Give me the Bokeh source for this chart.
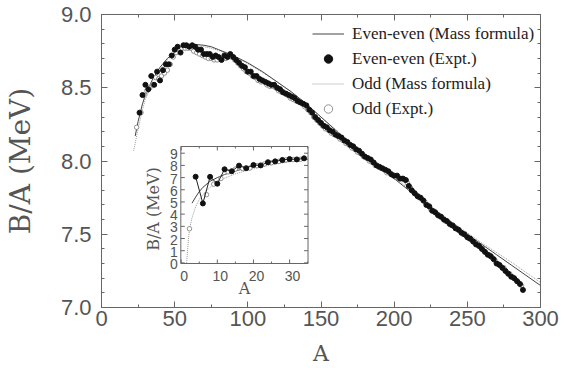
from bokeh.plotting import figure
from bokeh.models import (LinearAxis, SingleIntervalTicker, NumeralTickFormatter, Legend,
                          LegendItem, CustomLabelingPolicy, Range1d)
from bokeh.core.properties import value
from bokeh.embed import file_html
from bokeh.resources import INLINE
import math

# ---------------- data ----------------
# mass formula, even-even (solid)
mf_ee_A = [23, 25, 28, 30, 35, 40, 45, 50, 55, 60, 65, 70, 75, 80, 85, 90, 100, 110, 120, 130,
           140, 150, 160, 170, 180, 190, 200, 210, 220, 230, 240, 250, 260, 270, 280, 290, 300]
mf_ee_BA = [8.17, 8.27, 8.39, 8.45, 8.56, 8.64, 8.70, 8.74, 8.77, 8.79, 8.795, 8.79, 8.78, 8.76, 8.74,
            8.72, 8.67, 8.61, 8.54, 8.47, 8.39, 8.30, 8.21, 8.12, 8.04, 7.96, 7.88, 7.80, 7.72,
            7.64, 7.57, 7.50, 7.43, 7.36, 7.29, 7.22, 7.15]
# mass formula, odd (dotted)
mf_odd_A = [22, 25, 28, 30, 35, 40, 45, 50, 55, 60, 65, 70, 75, 80, 85, 90, 100, 110, 120, 130,
            140, 150, 160, 170, 180, 190, 200, 210, 220, 230, 240, 250, 260, 270, 280, 290, 300]
mf_odd_BA = [8.07, 8.22, 8.35, 8.42, 8.54, 8.62, 8.69, 8.73, 8.76, 8.78, 8.785, 8.78, 8.77, 8.755,
             8.735, 8.715, 8.665, 8.605, 8.54, 8.47, 8.39, 8.30, 8.215, 8.13, 8.05, 7.97, 7.89,
             7.81, 7.73, 7.655, 7.58, 7.51, 7.44, 7.375, 7.31, 7.24, 7.17]

# experiment, even-even (filled)
ee_A = list(range(26, 290, 2))
ee_BA = [8.33, 8.45, 8.52, 8.49, 8.58, 8.52, 8.61, 8.55, 8.62, 8.66, 8.66, 8.72, 8.76,
         8.78, 8.74, 8.79, 8.79, 8.78, 8.79, 8.78, 8.76, 8.76, 8.73, 8.73, 8.73, 8.71, 8.72,
         8.71, 8.69, 8.72, 8.71, 8.73, 8.71, 8.69, 8.67, 8.65, 8.64, 8.61, 8.61, 8.58, 8.58,
         8.56, 8.55, 8.54, 8.53, 8.52, 8.52, 8.50, 8.49, 8.47, 8.46, 8.45, 8.44, 8.43, 8.41,
         8.40, 8.39, 8.38, 8.35, 8.33, 8.30, 8.28, 8.26, 8.24, 8.23, 8.21, 8.20, 8.18, 8.17,
         8.16, 8.14, 8.13, 8.11, 8.10, 8.08, 8.07, 8.05, 8.03, 8.02, 8.01, 7.99, 7.97, 7.96,
         7.95, 7.94, 7.93, 7.91, 7.90, 7.90, 7.88, 7.88, 7.87, 7.83, 7.80, 7.78, 7.76, 7.75,
         7.73, 7.70, 7.69, 7.66, 7.65, 7.63, 7.62, 7.60, 7.59, 7.57, 7.56, 7.54, 7.53, 7.51,
         7.50, 7.48, 7.47, 7.45, 7.43, 7.42, 7.40, 7.38, 7.36, 7.35, 7.33, 7.30, 7.29, 7.27,
         7.25, 7.23, 7.21, 7.20, 7.18, 7.16, 7.12]

# experiment, odd (open)
odd_A = [24] + list(range(27, 289, 2))
odd_BA = [8.23, 8.33, 8.45, 8.48, 8.50, 8.52, 8.57, 8.56, 8.58, 8.60, 8.62, 8.66, 8.71, 8.74,
          8.76, 8.77, 8.77, 8.77, 8.77, 8.75, 8.74, 8.73, 8.72, 8.71, 8.70, 8.70, 8.69, 8.69,
          8.70, 8.70, 8.70, 8.71, 8.71, 8.69, 8.67, 8.65, 8.63, 8.61, 8.60, 8.58, 8.57, 8.55,
          8.54, 8.54, 8.52, 8.51, 8.51, 8.50, 8.48, 8.47, 8.46, 8.45, 8.43, 8.42, 8.41, 8.40,
          8.39, 8.37, 8.35, 8.33, 8.30, 8.28, 8.26, 8.24, 8.22, 8.21, 8.19, 8.18, 8.17, 8.15,
          8.14, 8.12, 8.11, 8.09, 8.08, 8.06, 8.05, 8.03, 8.02, 8.00, 7.99, 7.97, 7.96, 7.95,
          7.94, 7.92, 7.92, 7.90, 7.89, 7.88, 7.88, 7.87, 7.85, 7.82, 7.79, 7.77, 7.75, 7.74,
          7.72, 7.70, 7.67, 7.66, 7.64, 7.62, 7.61, 7.59, 7.58, 7.56, 7.55, 7.54, 7.52, 7.50,
          7.49, 7.47, 7.46, 7.44, 7.43, 7.41, 7.39, 7.37, 7.36, 7.34, 7.32, 7.30, 7.28, 7.27,
          7.24, 7.23, 7.21, 7.19, 7.17, 7.15]

# inset (light nuclei)
in_mf_ee_A = [3, 4, 5, 6, 8, 10, 12, 15, 20, 25, 30, 35]
in_mf_ee_BA = [4.9, 5.4, 5.85, 6.2, 6.7, 7.0, 7.25, 7.55, 7.9, 8.15, 8.35, 8.5]
in_mf_odd_A = [1.5, 2, 2.3, 3, 4, 5, 6, 7, 8, 10, 12, 15, 20, 25, 30, 35]
in_mf_odd_BA = [0.0, 1.9, 2.8, 3.7, 4.6, 5.2, 5.6, 5.9, 6.2, 6.6, 6.95, 7.3, 7.75, 8.05, 8.3, 8.45]
in_ee_A = [4, 6, 8, 10, 12, 14, 16, 18, 20, 22, 24, 26, 28, 30, 32, 34]
in_ee_BA = [7.07, 4.88, 7.06, 6.50, 7.68, 7.52, 7.98, 7.77, 8.03, 8.00, 8.26, 8.33, 8.45, 8.52, 8.49, 8.58]
in_odd_A = [2.3, 7, 9, 11, 13, 15, 17, 19, 21, 23, 25, 27, 29, 31, 33]
in_odd_BA = [2.8, 5.6, 6.46, 6.93, 7.47, 7.70, 7.75, 7.78, 7.97, 8.11, 8.22, 8.33, 8.45, 8.48, 8.50]
in_x_ticks = [0, 10, 20, 30]
in_x_minor = [5, 15, 25, 35]
in_y_ticks = [0, 1, 2, 3, 4, 5, 6, 7, 8, 9]

x_label = "A"
y_label = "B/A (MeV)"
leg_labels = ["Even-even (Mass formula)", "Even-even (Expt.)", "Odd (Mass formula)", "Odd (Expt.)"]

AXC = "#666666"
TXT = "#555555"
SERIF = "DejaVu Serif"
HIDE = "for (const i of indices) { indices.unset(i) }\nreturn indices"

# ---------------- layout geometry (pixels) ----------------
W, H = 569, 368
FR_L, FR_R, FR_T, FR_B = 100, 540, 14, 307          # main frame
IN_L, IN_R, IN_T, IN_B = 179.5, 307, 146, 263       # inset box
ix0, ix1, iy0, iy1 = -0.1, 35.1, -0.05, 9.55         # inset axis limits
sx = (ix1 - ix0) / (IN_R - IN_L)
sy = (iy1 - iy0) / (IN_B - IN_T)


def mirror_axis(tk, tin, tmin):
    return LinearAxis(ticker=tk, major_label_text_font_size="1px", major_label_standoff=0,
                      major_label_policy=CustomLabelingPolicy(code=HIDE),
                      axis_line_color=AXC, major_tick_line_color=AXC, minor_tick_line_color=AXC,
                      major_tick_in=tin, major_tick_out=0, minor_tick_in=tmin, minor_tick_out=0)


# ---------------- main plot ----------------
p = figure(width=W, height=H, x_range=(0, 300), y_range=(7.0, 9.0),
           output_backend="svg", toolbar_location=None,
           min_border_left=FR_L, min_border_right=W - FR_R, min_border_top=FR_T,
           min_border_bottom=H - FR_B)
p.xgrid.visible = False
p.ygrid.visible = False
p.outline_line_color = AXC
p.background_fill_color = "white"
p.border_fill_color = "white"

xt = SingleIntervalTicker(interval=50, num_minor_ticks=2)
yt = SingleIntervalTicker(interval=0.5, num_minor_ticks=5)
p.xaxis.ticker = xt
p.yaxis.ticker = yt
p.yaxis.formatter = NumeralTickFormatter(format="0.0")

for ax in (p.xaxis[0], p.yaxis[0]):
    ax.axis_line_color = AXC
    ax.major_tick_line_color = AXC
    ax.minor_tick_line_color = AXC
    ax.major_tick_in = 6
    ax.major_tick_out = 0
    ax.minor_tick_in = 3
    ax.minor_tick_out = 0
    ax.major_label_text_font = "Liberation Sans"
    ax.major_label_text_font_size = "22px"
    ax.major_label_text_color = TXT
    ax.axis_label_text_font = SERIF
    ax.axis_label_text_font_style = "normal"
    ax.axis_label_text_color = TXT

p.xaxis.axis_label = x_label
p.yaxis.axis_label = y_label
p.xaxis.axis_label_text_font_size = "22px"
p.yaxis.axis_label_text_font_size = "28px"
p.xaxis.major_label_standoff = 3
p.xaxis.axis_label_standoff = 12
p.yaxis.major_label_standoff = 10
p.yaxis.axis_label_standoff = 21

p.add_layout(mirror_axis(xt, 6, 3), "above")
p.add_layout(mirror_axis(yt, 6, 3), "right")

r_mf_odd = p.line(mf_odd_A, mf_odd_BA, line_color="#9a9a9a", line_width=1, line_dash="1 1")
r_mf_ee = p.line(mf_ee_A, mf_ee_BA, line_color="#444444", line_width=1)
r_odd = p.scatter(odd_A, odd_BA, size=4.5, fill_color="white", line_color="#777777", line_width=0.8)
r_ee = p.scatter(ee_A, ee_BA, size=5, fill_color="#111111", line_color="#111111")

legend = Legend(items=[
    LegendItem(label=leg_labels[0], renderers=[r_mf_ee]),
    LegendItem(label=leg_labels[1], renderers=[r_ee]),
    LegendItem(label=leg_labels[2], renderers=[r_mf_odd]),
    LegendItem(label=leg_labels[3], renderers=[r_odd]),
], location=(211, 188))
legend.border_line_color = None
legend.background_fill_alpha = 0
legend.label_text_font = "Liberation Serif"
legend.label_text_font_size = "17px"
legend.label_text_color = "#222222"
legend.glyph_width = 32
legend.glyph_height = 21
legend.label_height = 21
legend.spacing = 4
legend.padding = 4
legend.margin = 0
legend.label_standoff = 8
p.add_layout(legend)

# ---------------- inset, drawn in the same frame through its own ranges ----------------
p.extra_x_ranges = {"ix": Range1d(ix0 - (IN_L - FR_L) * sx, ix1 + (FR_R - IN_R) * sx)}
p.extra_y_ranges = {"iy": Range1d(iy0 - (FR_B - IN_B) * sy, iy1 + (IN_T - FR_T) * sy)}
IR = dict(x_range_name="ix", y_range_name="iy")

p.quad(left=[ix0], right=[ix1], bottom=[iy0], top=[iy1], fill_color="white",
       line_color=AXC, line_width=1, **IR)

tk_maj, tk_min = 4, 2  # tick lengths in px
p.segment(x0=in_x_ticks, x1=in_x_ticks, y0=[iy0] * 4, y1=[iy0 + tk_maj * sy] * 4, line_color=AXC, **IR)
p.segment(x0=in_x_ticks, x1=in_x_ticks, y0=[iy1] * 4, y1=[iy1 - tk_maj * sy] * 4, line_color=AXC, **IR)
p.segment(x0=in_x_minor, x1=in_x_minor, y0=[iy0] * 4, y1=[iy0 + tk_min * sy] * 4, line_color=AXC, **IR)
p.segment(x0=in_x_minor, x1=in_x_minor, y0=[iy1] * 4, y1=[iy1 - tk_min * sy] * 4, line_color=AXC, **IR)
ny = len(in_y_ticks)
p.segment(x0=[ix0] * ny, x1=[ix0 + tk_maj * sx] * ny, y0=in_y_ticks, y1=in_y_ticks, line_color=AXC, **IR)
p.segment(x0=[ix1] * ny, x1=[ix1 - tk_maj * sx] * ny, y0=in_y_ticks, y1=in_y_ticks, line_color=AXC, **IR)

p.text(x=in_x_ticks, y=[iy0] * 4, text=[str(t) for t in in_x_ticks], x_offset=3, y_offset=12,
       text_align="center", text_baseline="middle", text_font=value("Liberation Sans"),
       text_font_size="14px", text_color=TXT, **IR)
p.text(x=[ix0] * ny, y=in_y_ticks, text=[str(t) for t in in_y_ticks], x_offset=-3, y_offset=1,
       text_align="right", text_baseline="middle", text_font=value("Liberation Sans"),
       text_font_size="14px", text_color=TXT, **IR)
p.text(x=[(ix0 + ix1) / 2], y=[iy0], text=[x_label], y_offset=25,
       text_align="center", text_baseline="middle", text_font=value(SERIF),
       text_font_size="16px", text_color=TXT, **IR)
p.text(x=[ix0], y=[(iy0 + iy1) / 2], text=[y_label], x_offset=-27, y_offset=4, angle=math.pi / 2,
       text_align="center", text_baseline="middle", text_font=value(SERIF),
       text_font_size="16px", text_color=TXT, **IR)

p.line(in_mf_odd_A, in_mf_odd_BA, line_color="#9a9a9a", line_width=1, line_dash="1 1", **IR)
p.line(in_mf_ee_A, in_mf_ee_BA, line_color="#444444", line_width=1, **IR)
p.scatter(in_odd_A, in_odd_BA, size=4.5, fill_color="white", line_color="#777777", line_width=0.8, **IR)
p.line(in_ee_A, in_ee_BA, line_color="#222222", line_width=1, **IR)
p.scatter(in_ee_A, in_ee_BA, size=5, fill_color="#111111", line_color="#111111", **IR)

open("out.html", "w").write(file_html(p, INLINE))
